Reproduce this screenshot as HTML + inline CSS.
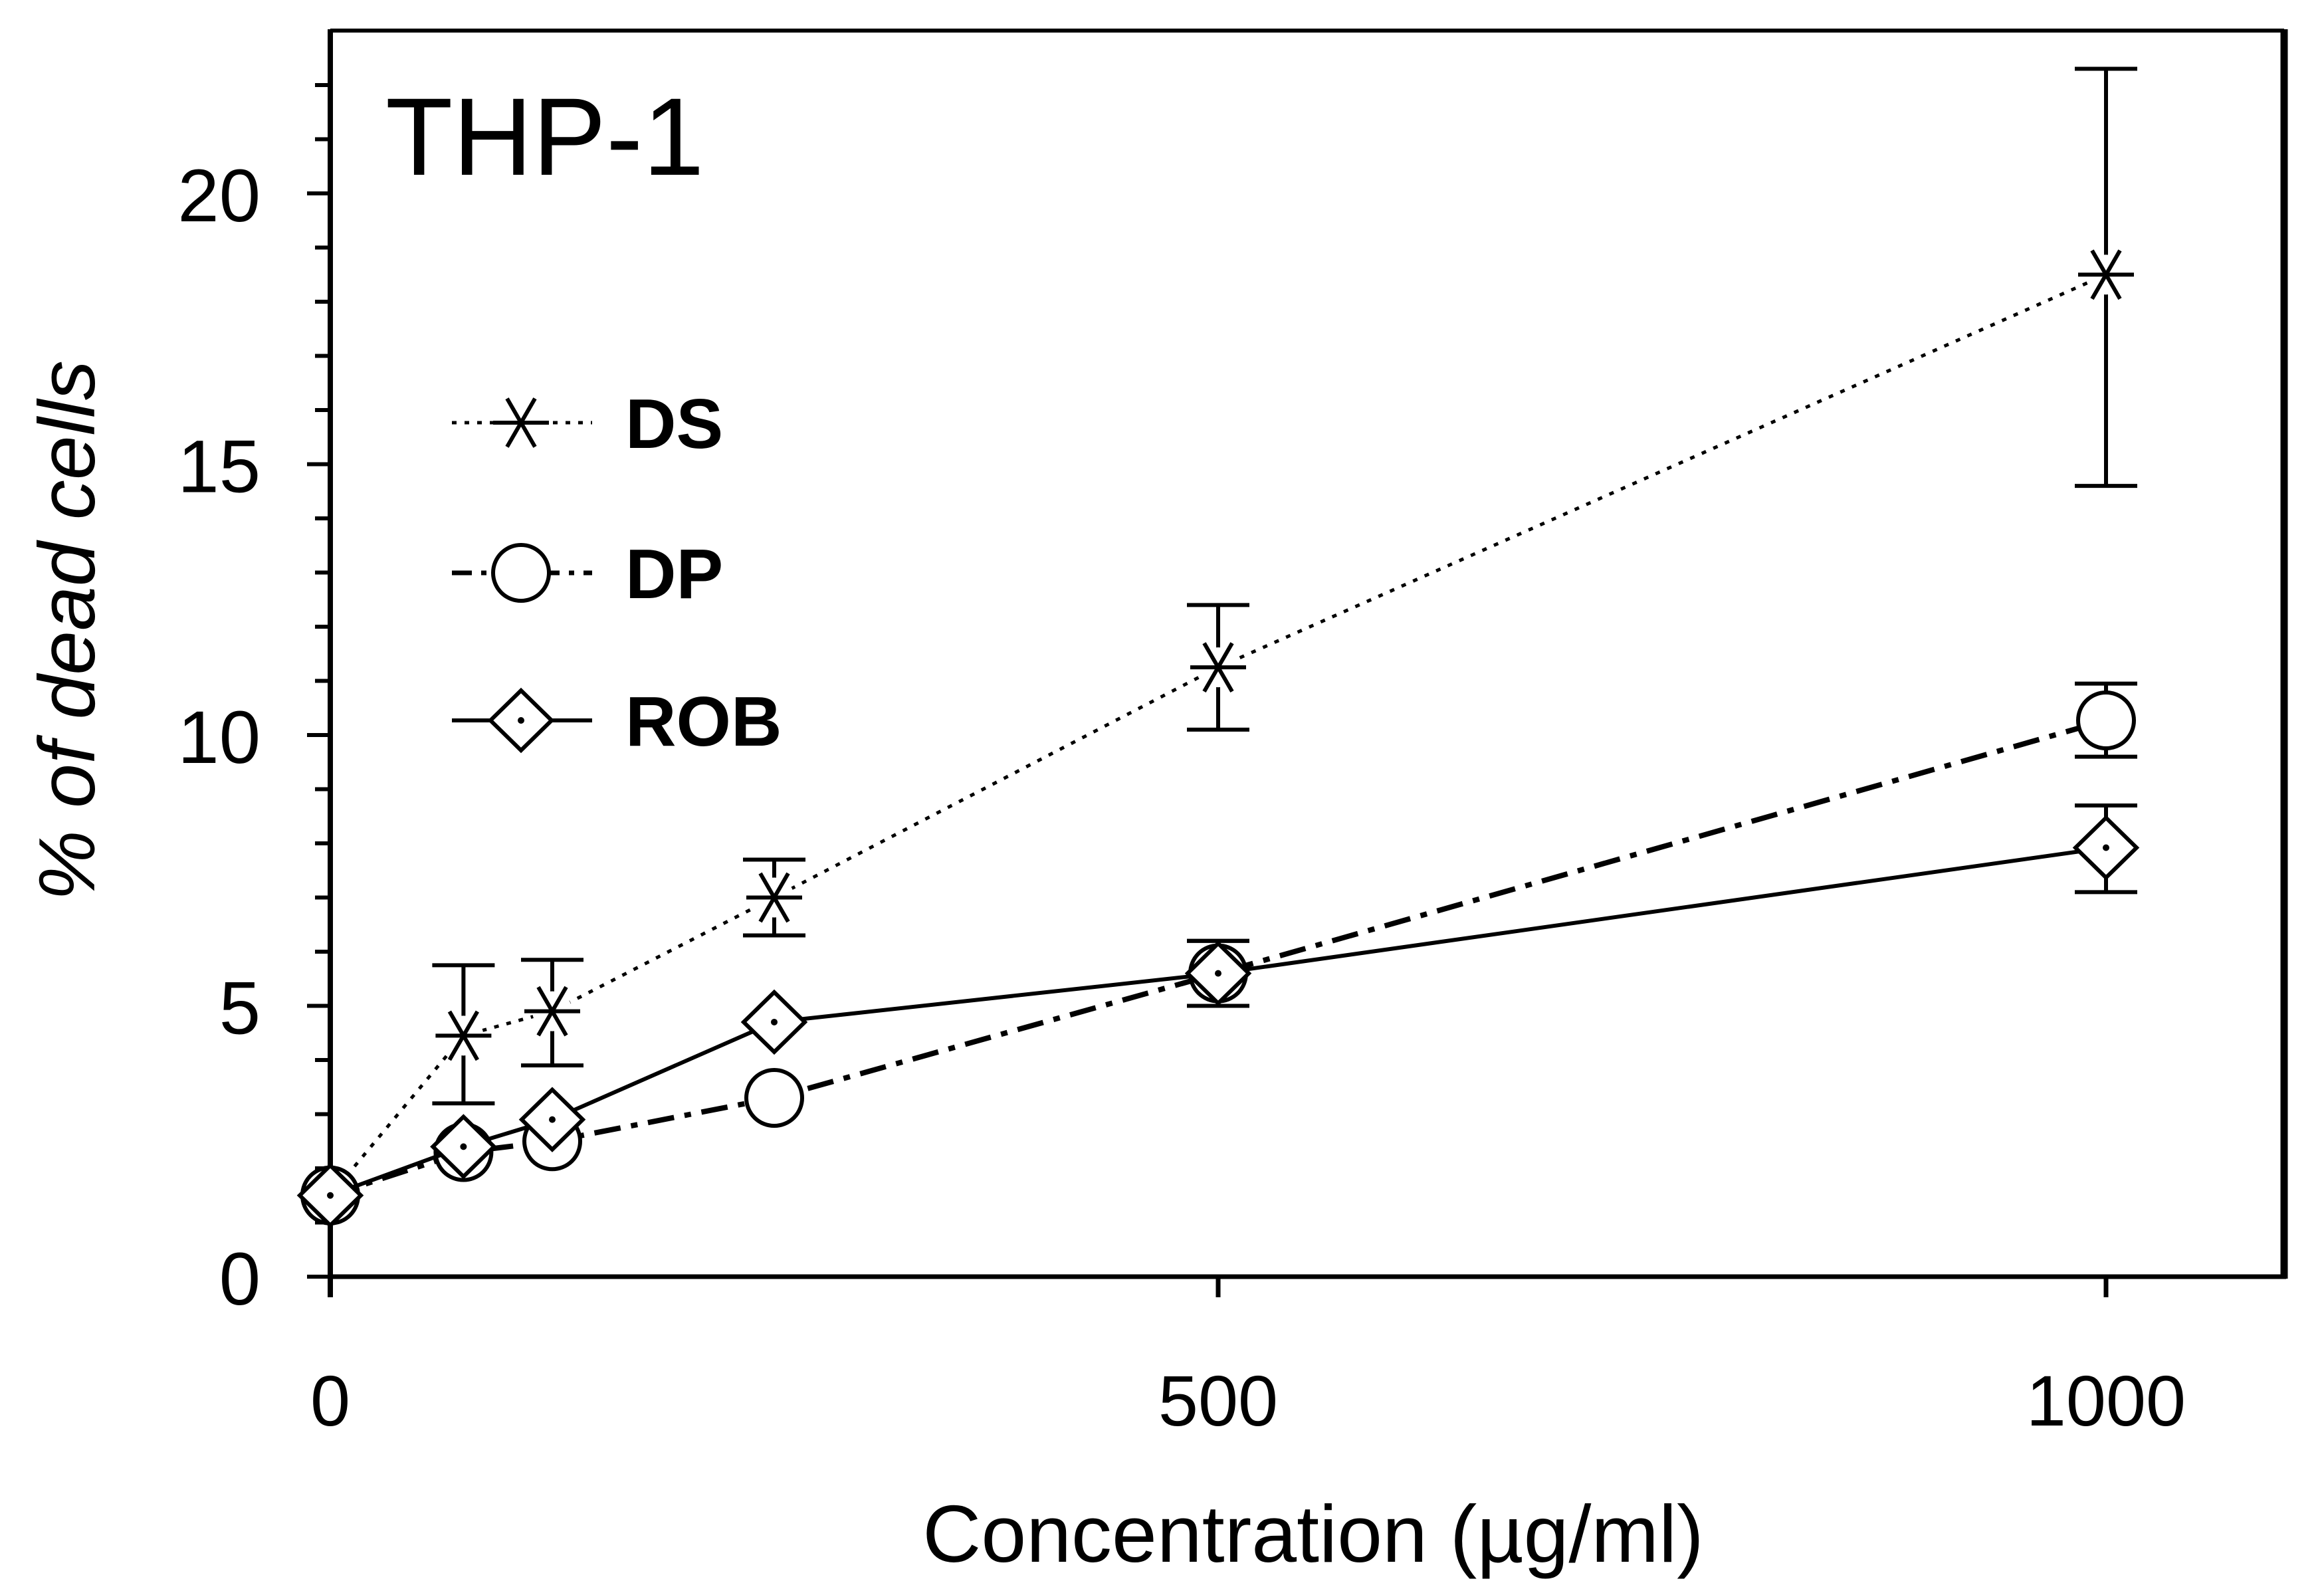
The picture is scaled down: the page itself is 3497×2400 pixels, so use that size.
<!DOCTYPE html>
<html><head><meta charset="utf-8"><style>
html,body{margin:0;padding:0;background:#fff;}
svg{display:block;}
text{font-family:"Liberation Sans",Arial,sans-serif;fill:#000;}
</style></head><body>
<svg id="chart" width="3497" height="2400" viewBox="0 0 3497 2400" xmlns="http://www.w3.org/2000/svg"></svg>
<script>
const concentrations = [0, 75, 125, 250, 500, 1000];
const dsMean = [1.5, 4.45, 4.9, 7.0, 11.25, 18.5];
const dsLow  = [1.5, 3.2, 3.9, 6.3, 10.1, 14.6];
const dsHigh = [1.5, 5.75, 5.85, 7.7, 12.4, 22.3];
const dpMean = [1.5, 2.3, 2.5, 3.3, 5.6, 10.27];
const dpLow  = [1.5, 2.3, 2.5, 3.3, 5.0, 9.6];
const dpHigh = [1.5, 2.3, 2.5, 3.3, 6.2, 10.95];
const robMean = [1.5, 2.4, 2.9, 4.7, 5.6, 7.92];
const robLow  = [1.5, 2.4, 2.9, 4.7, 5.0, 7.1];
const robHigh = [1.5, 2.4, 2.9, 4.7, 6.2, 8.7];
const yTicks = [0, 5, 10, 15, 20];
const xTicks = [0, 500, 1000];

const NS = 'http://www.w3.org/2000/svg';
const svg = document.getElementById('chart');
const X0 = 497, X1 = 3169, Y0 = 1921, PPU = 81.5;
const xs = v => X0 + (X1 - X0) * v / 1000;
const ys = v => Y0 - v * PPU;
function mk(tag, attrs, parent) {
  const e = document.createElementNS(NS, tag);
  for (const k in attrs) e.setAttribute(k, attrs[k]);
  (parent || svg).appendChild(e);
  return e;
}
const frame = mk('g', {});


mk('line', {x1: X0, y1: 46, x2: 3437, y2: 46, stroke: '#000', 'stroke-width': 6}, frame);
mk('line', {x1: 3437, y1: 44, x2: 3437, y2: 1924, stroke: '#000', 'stroke-width': 11}, frame);
mk('line', {x1: X0, y1: Y0, x2: 3440, y2: Y0, stroke: '#000', 'stroke-width': 7}, frame);
mk('line', {x1: X0, y1: 44, x2: X0, y2: 1952, stroke: '#000', 'stroke-width': 8}, frame);
const yAxis = mk('g', {});


for (let v = 0; v <= 22; v++) {
  const major = v % 5 === 0;
  mk('line', {x1: major ? 462 : 474, y1: ys(v), x2: X0, y2: ys(v), stroke: '#000', 'stroke-width': 6}, yAxis);
}
yTicks.forEach(v => {
  const t = mk('text', {x: 392, y: ys(v) + 42, 'text-anchor': 'end', 'font-size': 112}, yAxis);
  
  
  t.textContent = v;
});
const xAxis = mk('g', {});


xTicks.forEach(v => {
  mk('line', {x1: xs(v), y1: Y0, x2: xs(v), y2: 1952, stroke: '#000', 'stroke-width': 7}, xAxis);
  const t = mk('text', {x: xs(v), y: 2145, 'text-anchor': 'middle', 'font-size': 108}, xAxis);
  
  
  t.textContent = v;
});
const yt = mk('text', {x: 0, y: 0, 'text-anchor': 'middle', 'font-size': 120, 'font-style': 'italic', transform: 'translate(142,949) rotate(-90)'});


yt.textContent = '% of dead cells';
const xt = mk('text', {x: 1976, y: 2350, 'text-anchor': 'middle', 'font-size': 122});


xt.textContent = 'Concentration (µg/ml)';
const tt = mk('text', {x: 580, y: 263, 'font-size': 166});


tt.textContent = 'THP-1';

function marker(kind, cx, cy, g) {
  if (kind === 'star') {
    mk('circle', {cx, cy, r: 30, fill: '#fff'}, g);
    const r = 42;
    [0, 60, 120].forEach(a => {
      const rad = a * Math.PI / 180;
      mk('line', {x1: cx - r * Math.cos(rad), y1: cy - r * Math.sin(rad), x2: cx + r * Math.cos(rad), y2: cy + r * Math.sin(rad), stroke: '#000', 'stroke-width': 6}, g);
    });
  } else if (kind === 'circle') {
    mk('circle', {cx, cy, r: 42, fill: '#fff', stroke: '#000', 'stroke-width': 6}, g);
  } else {
    mk('polygon', {points: `${cx - 46},${cy} ${cx},${cy - 45} ${cx + 46},${cy} ${cx},${cy + 45}`, fill: '#fff', stroke: '#000', 'stroke-width': 6}, g);
    mk('circle', {cx, cy, r: 5, fill: '#000'}, g);
  }
}
const series = [
  {name: 'ds', mean: dsMean, lo: dsLow, hi: dsHigh, kind: 'star', dash: '7 12', w: 5},
  {name: 'dp', mean: dpMean, lo: dpLow, hi: dpHigh, kind: 'circle', dash: '40 16 10 16', w: 8},
  {name: 'rob', mean: robMean, lo: robLow, hi: robHigh, kind: 'diamond', dash: '', w: 6}
];
series.forEach(s => {
  const g = mk('g', {});
  
  
  const pts = concentrations.map((c, i) => xs(c) + ',' + ys(s.mean[i])).join(' ');
  const line = mk('polyline', {points: pts, fill: 'none', stroke: '#000', 'stroke-width': s.w, 'stroke-dasharray': s.dash}, g);
  
  
  concentrations.forEach((c, i) => {
    if (s.hi[i] - s.lo[i] > 0.05) {
      const x = xs(c);
      mk('line', {x1: x, y1: ys(s.lo[i]), x2: x, y2: ys(s.hi[i]), stroke: '#000', 'stroke-width': 6}, g);
      mk('line', {x1: x - 47, y1: ys(s.lo[i]), x2: x + 47, y2: ys(s.lo[i]), stroke: '#000', 'stroke-width': 6}, g);
      mk('line', {x1: x - 47, y1: ys(s.hi[i]), x2: x + 47, y2: ys(s.hi[i]), stroke: '#000', 'stroke-width': 6}, g);
    }
  });
  concentrations.forEach((c, i) => marker(s.kind, xs(c), ys(s.mean[i]), g));
});
const legend = [
  {label: 'DS', kind: 'star', dash: '7 12', w: 5, y: 636},
  {label: 'DP', kind: 'circle', dash: '30 14 8 14', w: 7, y: 862},
  {label: 'ROB', kind: 'diamond', dash: '', w: 6, y: 1084}
];
legend.forEach(l => {
  const g = mk('g', {});
  
  
  mk('line', {x1: 680, y1: l.y, x2: 891, y2: l.y, stroke: '#000', 'stroke-width': l.w, 'stroke-dasharray': l.dash}, g);
  marker(l.kind, 784, l.y, g);
  const t = mk('text', {x: 941, y: l.y + 38, 'font-size': 106, 'font-weight': 'bold'}, g);
  t.textContent = l.label;
});
</script>
</body></html>
